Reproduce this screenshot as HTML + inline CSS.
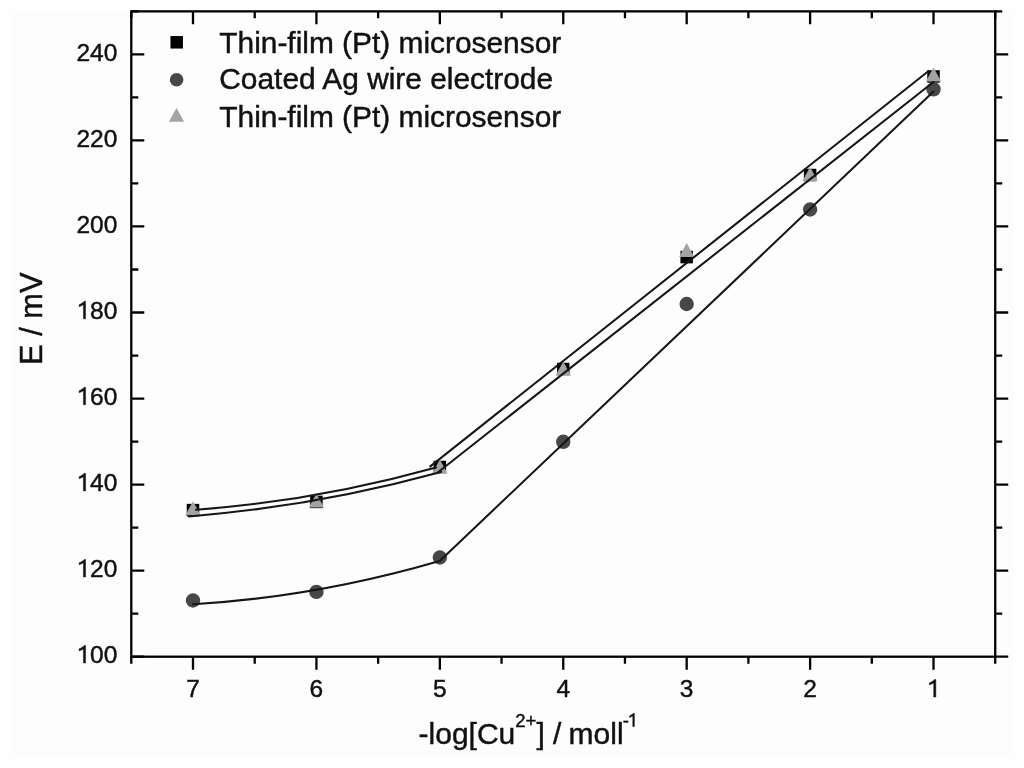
<!DOCTYPE html>
<html><head><meta charset="utf-8"><title>E vs -log[Cu2+]</title>
<style>
html,body{margin:0;padding:0;background:#fff;}
svg{display:block;will-change:transform;font-family:"Liberation Sans", sans-serif;fill:#000;}
text{fill:#111;stroke:#111;stroke-width:0.45px;}
</style></head>
<body>
<svg width="1024" height="768" viewBox="0 0 1024 768">
<rect x="0" y="0" width="1024" height="768" fill="#fff"/>
<rect x="10" y="10" width="1004" height="748" fill="#fdfdfd"/>
<path d="M131.29 656.70h13 M995.23 656.70h13 M131.29 613.68h7 M995.23 613.68h7 M131.29 570.65h13 M995.23 570.65h13 M131.29 527.63h7 M995.23 527.63h7 M131.29 484.61h13 M995.23 484.61h13 M131.29 441.59h7 M995.23 441.59h7 M131.29 398.56h13 M995.23 398.56h13 M131.29 355.54h7 M995.23 355.54h7 M131.29 312.52h13 M995.23 312.52h13 M131.29 269.49h7 M995.23 269.49h7 M131.29 226.47h13 M995.23 226.47h13 M131.29 183.45h7 M995.23 183.45h7 M131.29 140.42h13 M995.23 140.42h13 M131.29 97.40h7 M995.23 97.40h7 M131.29 54.38h13 M995.23 54.38h13 M131.29 11.36h7 M995.23 11.36h7 M131.29 656.70v7 M131.29 11.36v7 M193.00 656.70v13 M193.00 11.36v13 M254.71 656.70v7 M254.71 11.36v7 M316.42 656.70v13 M316.42 11.36v13 M378.13 656.70v7 M378.13 11.36v7 M439.84 656.70v13 M439.84 11.36v13 M501.55 656.70v7 M501.55 11.36v7 M563.26 656.70v13 M563.26 11.36v13 M624.97 656.70v7 M624.97 11.36v7 M686.68 656.70v13 M686.68 11.36v13 M748.39 656.70v7 M748.39 11.36v7 M810.10 656.70v13 M810.10 11.36v13 M871.81 656.70v7 M871.81 11.36v7 M933.52 656.70v13 M933.52 11.36v13 M995.23 656.70v7 M995.23 11.36v7" stroke="#000" stroke-width="2.3" fill="none"/>
<rect x="131.29" y="11.36" width="863.94" height="645.34" stroke="#000" stroke-width="2.3" fill="none"/>
<path d="M83.42 663.00L85.57 663.00L85.57 645.46L84.18 645.46C83.29 646.63 81.33 647.93 79.10 648.84L79.10 650.90C80.60 650.38 82.31 649.65 83.42 648.91Z" fill="#111" stroke="#111" stroke-width="0.45"/>
<text x="117.3" y="663.00" font-size="24.5" text-anchor="end">00</text>
<path d="M83.42 576.95L85.57 576.95L85.57 559.41L84.18 559.41C83.29 560.59 81.33 561.89 79.10 562.79L79.10 564.85C80.60 564.34 82.31 563.60 83.42 562.87Z" fill="#111" stroke="#111" stroke-width="0.45"/>
<text x="117.3" y="576.95" font-size="24.5" text-anchor="end">20</text>
<path d="M83.42 490.91L85.57 490.91L85.57 473.37L84.18 473.37C83.29 474.54 81.33 475.84 79.10 476.75L79.10 478.81C80.60 478.29 82.31 477.56 83.42 476.82Z" fill="#111" stroke="#111" stroke-width="0.45"/>
<text x="117.3" y="490.91" font-size="24.5" text-anchor="end">40</text>
<path d="M83.42 404.86L85.57 404.86L85.57 387.32L84.18 387.32C83.29 388.50 81.33 389.79 79.10 390.70L79.10 392.76C80.60 392.24 82.31 391.51 83.42 390.77Z" fill="#111" stroke="#111" stroke-width="0.45"/>
<text x="117.3" y="404.86" font-size="24.5" text-anchor="end">60</text>
<path d="M83.42 318.82L85.57 318.82L85.57 301.27L84.18 301.27C83.29 302.45 81.33 303.75 79.10 304.66L79.10 306.71C80.60 306.20 82.31 305.46 83.42 304.73Z" fill="#111" stroke="#111" stroke-width="0.45"/>
<text x="117.3" y="318.82" font-size="24.5" text-anchor="end">80</text>
<text x="117.3" y="232.77" font-size="24.5" text-anchor="end">200</text>
<text x="117.3" y="146.72" font-size="24.5" text-anchor="end">220</text>
<text x="117.3" y="60.68" font-size="24.5" text-anchor="end">240</text>
<text x="810.10" y="697" font-size="24.5" text-anchor="middle">2</text>
<text x="686.68" y="697" font-size="24.5" text-anchor="middle">3</text>
<text x="563.26" y="697" font-size="24.5" text-anchor="middle">4</text>
<text x="439.84" y="697" font-size="24.5" text-anchor="middle">5</text>
<text x="316.42" y="697" font-size="24.5" text-anchor="middle">6</text>
<text x="193.00" y="697" font-size="24.5" text-anchor="middle">7</text>
<path d="M933.69 697.00L935.85 697.00L935.85 679.46L934.45 679.46C933.57 680.63 931.61 681.93 929.38 682.84L929.38 684.90C930.87 684.38 932.59 683.65 933.69 682.91Z" fill="#111" stroke="#111" stroke-width="0.45"/>
<text transform="translate(41.6 318.7) rotate(-90)" font-size="30.8" text-anchor="middle">E / mV</text>
<text x="418.6" y="744.2" font-size="30">-log[Cu<tspan font-size="18.5" dy="-17.5">2+</tspan><tspan dy="17.5">] /</tspan><tspan dx="-1.2"> moll</tspan><tspan font-size="18.5" dx="-0.8" dy="-17.5">-</tspan></text>
<path d="M632.77 726.60L634.40 726.60L634.40 713.35L633.35 713.35C632.68 714.24 631.20 715.22 629.52 715.91L629.52 717.46C630.64 717.07 631.94 716.52 632.77 715.96Z" fill="#111" stroke="#111" stroke-width="0.45"/>
<rect x="186.75" y="503.85" width="12.5" height="12.5" fill="#000"/>
<rect x="310.17" y="495.65" width="12.5" height="12.5" fill="#000"/>
<rect x="433.59" y="460.75" width="12.5" height="12.5" fill="#000"/>
<rect x="557.01" y="362.75" width="12.5" height="12.5" fill="#000"/>
<rect x="680.43" y="250.85" width="12.5" height="12.5" fill="#000"/>
<rect x="803.85" y="168.75" width="12.5" height="12.5" fill="#000"/>
<rect x="927.27" y="70.25" width="12.5" height="12.5" fill="#000"/>
<circle cx="193.00" cy="600.50" r="7.2" fill="#474747"/>
<circle cx="316.42" cy="591.90" r="7.2" fill="#474747"/>
<circle cx="439.84" cy="557.50" r="7.2" fill="#474747"/>
<circle cx="563.26" cy="441.80" r="7.2" fill="#474747"/>
<circle cx="686.68" cy="304.00" r="7.2" fill="#474747"/>
<circle cx="810.10" cy="209.50" r="7.2" fill="#474747"/>
<circle cx="933.52" cy="89.30" r="7.2" fill="#474747"/>
<path d="M193.00 501.20L200.70 515.20L185.30 515.20Z" fill="#a3a3a3"/>
<path d="M316.42 493.50L324.12 507.50L308.72 507.50Z" fill="#a3a3a3"/>
<path d="M439.84 459.50L447.54 473.50L432.14 473.50Z" fill="#a3a3a3"/>
<path d="M563.26 361.50L570.96 375.50L555.56 375.50Z" fill="#a3a3a3"/>
<path d="M686.68 243.10L694.38 257.10L678.98 257.10Z" fill="#a3a3a3"/>
<path d="M810.10 167.00L817.80 181.00L802.40 181.00Z" fill="#a3a3a3"/>
<path d="M933.52 67.50L941.22 81.50L925.82 81.50Z" fill="#a3a3a3"/>
<path d="M196.00 509.70Q316.00 501.09 436.00 467.53 M189.00 516.45Q315.00 506.30 441.00 471.89 M193.00 604.29Q316.25 596.92 439.50 560.97 M430.30 466.40L928.60 71.05 M438.00 472.25L933.50 82.04 M439.50 561.20L933.50 91.60" stroke="#161616" stroke-width="2.05" fill="none" stroke-linecap="round"/>
<rect x="170.45" y="36.05" width="12.5" height="12.5" fill="#000"/>
<circle cx="176.60" cy="79.70" r="6.8" fill="#474747"/>
<path d="M176.50 108.00L184.10 121.80L168.90 121.80Z" fill="#a3a3a3"/>
<text x="219.3" y="52.5" font-size="29.88">Thin-film (Pt) microsensor</text>
<text x="219.3" y="89.2" font-size="29.88">Coated Ag wire electrode</text>
<text x="219.3" y="126.6" font-size="29.88">Thin-film (Pt) microsensor</text>
</svg>
</body></html>
